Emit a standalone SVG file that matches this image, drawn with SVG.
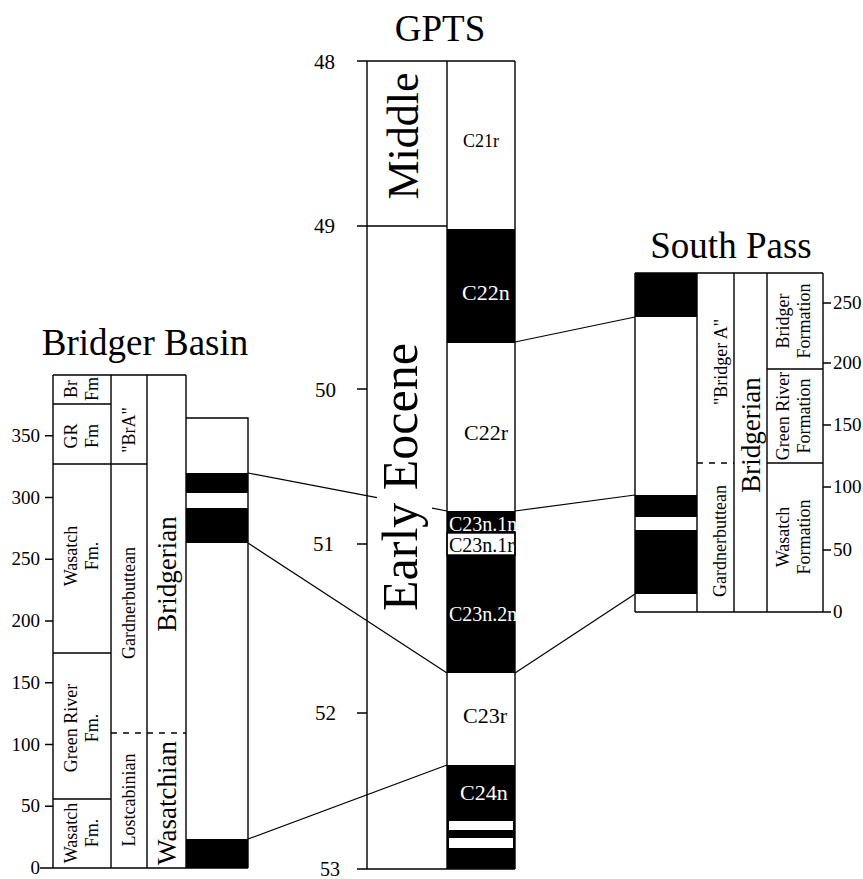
<svg xmlns="http://www.w3.org/2000/svg" width="863" height="879" viewBox="0 0 863 879" font-family="'Liberation Serif', 'Times New Roman', serif">
<style>
text { font-family: "Liberation Serif", "Times New Roman", serif; fill: #000; }
.ln { stroke: #000; stroke-width: 1.4; fill: none; }
.dash { stroke: #000; stroke-width: 1.4; stroke-dasharray: 6 6; fill: none; }
.blk { fill: #000; }
.wbox { fill: #fff; stroke: #000; stroke-width: 1.4; }
.wht { fill: #fff; }
.title { font-family: "Liberation Serif", "Times New Roman", serif; font-size: 37px; text-anchor: middle; }
.axl { font-family: "Liberation Serif", "Times New Roman", serif; font-size: 19px; text-anchor: end; }
.axr { font-family: "Liberation Serif", "Times New Roman", serif; font-size: 19px; text-anchor: start; }
.gax { font-family: "Liberation Serif", "Times New Roman", serif; font-size: 21px; text-anchor: end; }
.lab { font-family: "Liberation Serif", "Times New Roman", serif; font-size: 18px; text-anchor: middle; }
.big { font-family: "Liberation Serif", "Times New Roman", serif; font-size: 27px; text-anchor: middle; }
.chron { font-family: "Liberation Serif", "Times New Roman", serif; font-size: 22px; }
.chs { font-family: "Liberation Serif", "Times New Roman", serif; font-size: 20px; }
.wt { fill: #fff; }
.conn { stroke: #000; stroke-width: 1.2; fill: none; }
</style>
<rect width="863" height="879" fill="#fff"/>

<g id="bridger-basin">
  <text class="title" x="145" y="355">Bridger Basin</text>
  <rect class="blk" x="186" y="473" width="62" height="20"/>
  <rect class="blk" x="186" y="508" width="62" height="35"/>
  <rect class="blk" x="186" y="839" width="62" height="29"/>
  <path class="ln" d="M53,375 H186 M53,375 V868 M111,375 V868 M147,375 V868 M186,375 V868 M186,418 H248 V868 M40,868 H248 M53,404 H111 M53,464 H147 M53,653 H111 M53,799 H111"/>
  <path class="dash" d="M111,733 H186"/>
  <path class="ln" d="M45,806.25 H53 M45,744.5 H53 M45,682.75 H53 M45,621 H53 M45,559.25 H53 M45,497.5 H53 M45,435.75 H53"/>
  <text class="axl" x="40" y="874">0</text>
  <text class="axl" x="40" y="812">50</text>
  <text class="axl" x="40" y="751">100</text>
  <text class="axl" x="40" y="689">150</text>
  <text class="axl" x="40" y="627">200</text>
  <text class="axl" x="40" y="565">250</text>
  <text class="axl" x="40" y="504">300</text>
  <text class="axl" x="40" y="442">350</text>
  <text class="lab" transform="translate(77,389) rotate(-90)">Br<tspan x="0" dy="21">Fm</tspan></text>
  <text class="lab" transform="translate(77,436) rotate(-90)">GR<tspan x="0" dy="21">Fm</tspan></text>
  <text class="lab" transform="translate(77,556) rotate(-90)">Wasatch<tspan x="0" dy="21">Fm.</tspan></text>
  <text class="lab" transform="translate(77,728) rotate(-90)">Green River<tspan x="0" dy="21">Fm.</tspan></text>
  <text class="lab" transform="translate(77,833) rotate(-90)">Wasatch<tspan x="0" dy="21">Fm.</tspan></text>
  <text class="lab" transform="translate(135,430) rotate(-90)">"BrA"</text>
  <text class="lab" transform="translate(135,603) rotate(-90)">Gardnerbuttean</text>
  <text class="lab" transform="translate(135,800) rotate(-90)">Lostcabinian</text>
  <text class="big" transform="translate(176,574) rotate(-90)">Bridgerian</text>
  <text class="big" transform="translate(176,803) rotate(-90)">Wasatchian</text>
</g>

<g id="gpts">
  <text class="title" x="440" y="41">GPTS</text>
  <rect class="blk" x="447" y="229" width="68" height="114"/>
  <rect class="blk" x="447" y="511" width="68" height="22"/>
  <rect class="wbox" x="447" y="533" width="68" height="22"/>
  <rect class="blk" x="447" y="555" width="68" height="118"/>
  <rect class="blk" x="447" y="765" width="68" height="104"/>
  <rect class="wht" x="449" y="821" width="64" height="9"/>
  <rect class="wht" x="449" y="838" width="64" height="10"/>
  <path class="ln" d="M357,61 H515 M367,61 V869 M447,61 V869 M515,61 V869 M357,226 H447 M357,869 H515 M357,389 H367 M357,544 H367 M357,713 H367"/>
  <text class="gax" x="335" y="69">48</text>
  <text class="gax" x="335" y="233">49</text>
  <text class="gax" x="336" y="397">50</text>
  <text class="gax" x="334" y="551">51</text>
  <text class="gax" x="336" y="720">52</text>
  <text class="gax" x="340" y="876" style="font-size:20px">53</text>
  <text transform="translate(418,136) rotate(-90)" style="font-size:44px;text-anchor:middle">Middle</text>
  <text transform="translate(417,477) rotate(-90)" style="font-size:50px;text-anchor:middle">Early Eocene</text>
  <text x="463" y="147" style="font-size:18px">C21r</text>
  <text class="chron wt" x="462" y="300">C22n</text>
  <text class="chron" x="464" y="440">C22r</text>
  <text class="chs wt" x="449" y="531">C23n.1n</text>
  <text class="chs" x="449" y="552">C23n.1r</text>
  <text class="chs wt" x="449" y="621">C23n.2n</text>
  <text class="chron" x="463" y="723">C23r</text>
  <text class="chron wt" x="460" y="800">C24n</text>
</g>

<g id="south-pass">
  <text class="title" x="731" y="258">South Pass</text>
  <rect class="blk" x="635" y="273" width="62" height="44"/>
  <rect class="blk" x="635" y="495" width="62" height="22"/>
  <rect class="blk" x="635" y="530" width="62" height="64"/>
  <path class="ln" d="M635,273 H823 M635,273 V612 M697,273 V612 M734,273 V612 M767,273 V612 M823,273 V612 M635,612 H831 M767,369 H823 M767,463 H823"/>
  <path class="dash" d="M697,463 H734"/>
  <path class="ln" d="M823,303 H831 M823,363 H831 M823,425 H831 M823,487 H831 M823,550 H831"/>
  <text class="axr" x="833" y="618">0</text>
  <text class="axr" x="833" y="556">50</text>
  <text class="axr" x="833" y="493">100</text>
  <text class="axr" x="833" y="431">150</text>
  <text class="axr" x="833" y="369">200</text>
  <text class="axr" x="833" y="309">250</text>
  <text class="lab" transform="translate(727,362) rotate(-90)">"Bridger A"</text>
  <text class="lab" transform="translate(726,541) rotate(-90)">Gardnerbuttean</text>
  <text class="big" transform="translate(760,435) rotate(-90)">Bridgerian</text>
  <text class="lab" transform="translate(789,321) rotate(-90)">Bridger<tspan x="0" dy="21">Formation</tspan></text>
  <text class="lab" transform="translate(789,416) rotate(-90)">Green River<tspan x="0" dy="21">Formation</tspan></text>
  <text class="lab" transform="translate(789,537) rotate(-90)">Wasatch<tspan x="0" dy="21">Formation</tspan></text>
</g>

<g id="connectors">
  <path class="conn" d="M248,473 L377,497.6 M432,508.1 L447,511"/>
  <path class="conn" d="M248,543 L447,673"/>
  <path class="conn" d="M248,839 L447,765"/>
  <path class="conn" d="M515,342 L635,317"/>
  <path class="conn" d="M515,511 L635,495"/>
  <path class="conn" d="M515,673 L635,594"/>
</g>
</svg>
